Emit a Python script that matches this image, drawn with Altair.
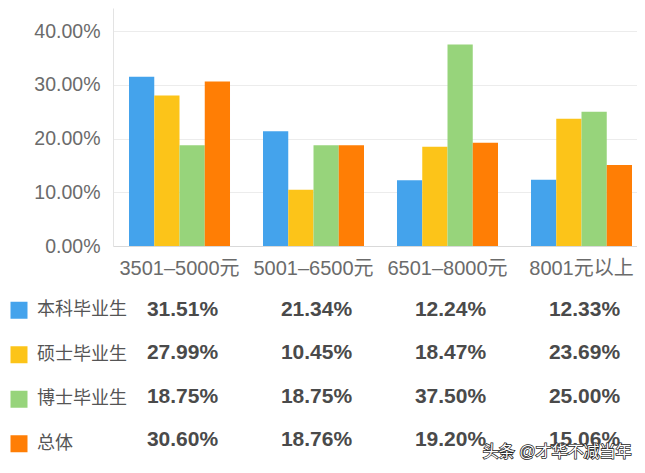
import altair as alt
import pandas as pd

groups = ["3501–5000元", "5001–6500元", "6501–8000元", "8001元以上"]
series = ["本科毕业生", "硕士毕业生", "博士毕业生", "总体"]
bachelor = [31.51, 21.34, 12.24, 12.33]
master = [27.99, 10.45, 18.47, 23.69]
doctor = [18.75, 18.75, 37.50, 25.00]
overall = [30.60, 18.76, 19.20, 15.06]
colors = ["#44A3EC", "#FCC419", "#97D47B", "#FF7E05"]
y_ticks = [0, 0.1, 0.2, 0.3, 0.4]
watermark = "头条 @才华不减当年"

FONT = "Liberation Sans, Noto Sans CJK SC, sans-serif"

rows = []
for s, vals in zip(series, [bachelor, master, doctor, overall]):
    for g, v in zip(groups, vals):
        rows.append({"group": g, "series": s, "value": v / 100.0, "label": f"{v:.2f}%"})
df = pd.DataFrame(rows)


def band_x():
    return alt.Scale(type="band", domain=groups, paddingInner=0.2463, paddingOuter=0.0784, align=0.762)


color_scale = alt.Scale(domain=series, range=colors)

bars = alt.Chart(df).mark_bar().encode(
    x=alt.X("group:N", sort=groups, scale=band_x(),
            axis=alt.Axis(title=None, labelAngle=0, labelFontSize=20, labelColor="#6b6b6b",
                          labelFont=FONT, labelPadding=12, ticks=False, domainColor="#d9d9d9",
                          grid=False)),
    xOffset=alt.XOffset("series:N", sort=series, scale=alt.Scale(paddingInner=0, paddingOuter=0)),
    y=alt.Y("value:Q", scale=alt.Scale(domain=[0, 0.443], nice=False),
            axis=alt.Axis(title=None, values=y_ticks, format=".2%", labelFontSize=19.5,
                          labelColor="#6b6b6b", labelFont=FONT, labelPadding=13, ticks=False,
                          domainColor="#e3e3e3", gridColor="#ececec", minExtent=103)),
    color=alt.Color("series:N", sort=series, scale=color_scale, legend=None),
).properties(width=524, height=238)

tbl_x = alt.X("group:N", sort=groups, scale=band_x(), axis=None)
tbl_y = alt.Y("series:N", sort=series, scale=alt.Scale(type="point", padding=0.5), axis=None)

values_text = alt.Chart(df).mark_text(fontSize=21, fontWeight="bold", color="#4a4a4a", font=FONT, dx=3).encode(
    x=tbl_x, y=tbl_y, text="label:N"
)

legend_layer = alt.Chart(pd.DataFrame({"series": series})).mark_square(size=0, opacity=1).encode(
    y=tbl_y,
    color=alt.Color("series:N", sort=series, scale=color_scale,
                    legend=alt.Legend(title=None, orient="none", legendX=-103, legendY=13.25,
                                      symbolType="square", symbolSize=289, symbolStrokeWidth=0,
                                      labelFontSize=18, labelColor="#555555", labelFont=FONT,
                                      labelOffset=9, rowPadding=26.5, padding=0)),
)

wm_df = pd.DataFrame({"group": [groups[-1]], "series": [series[-1]], "text": [watermark]})
wm_shadow = alt.Chart(wm_df).mark_text(fontSize=16, font=FONT, color="white", stroke="#222222",
                                       strokeWidth=1.5, align="right", dx=50, dy=12).encode(
    x=tbl_x, y=tbl_y, text="text:N")
wm_text = alt.Chart(wm_df).mark_text(fontSize=16, font=FONT, color="white",
                                     align="right", dx=50, dy=12).encode(
    x=tbl_x, y=tbl_y, text="text:N")

table = alt.layer(legend_layer, values_text, wm_shadow, wm_text).properties(width=524, height=174)

chart = alt.vconcat(bars, table, spacing=10).resolve_scale(color="independent").properties(
    padding={"left": 2, "top": 0, "right": 0, "bottom": 0}
).configure_view(strokeWidth=0)

chart.save("out.html", embed_options={"renderer": "svg", "actions": False})
